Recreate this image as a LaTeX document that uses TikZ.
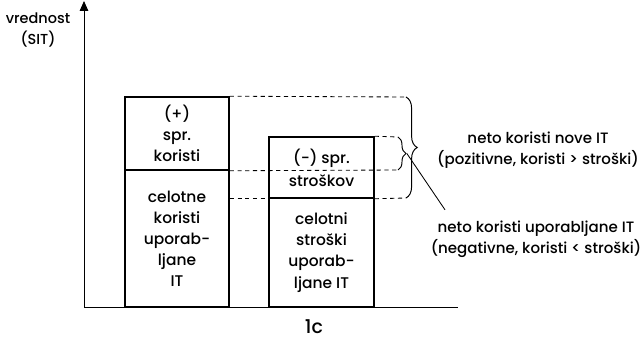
\documentclass[tikz,border=0pt]{standalone}
\usepackage{fontspec}
\setmainfont{Poppins Medium}
\usetikzlibrary{arrows.meta,decorations.pathreplacing}

\tikzset{
  barbox/.style={draw,line width=1.1pt,inner sep=0pt,align=center,font=\fontsize{11}{15}\selectfont},
  dashline/.style={dashed,line width=0.6pt,dash pattern=on 3pt off 2.5pt},
  bracebig/.style={decorate,decoration={brace,amplitude=0.28cm},line width=0.7pt},
  bracesmall/.style={decorate,decoration={brace,amplitude=0.2cm},line width=0.7pt},
  lbl/.style={align=center,font=\fontsize{10.7}{15}\selectfont}
}

\begin{document}
\begin{tikzpicture}
\useasboundingbox (0,0) rectangle (16.1,8.575);
% axes
\coordinate (o) at (2.1,0.9);
\coordinate (ytop) at (2.1,8.55);
\coordinate (xend) at (11.45,0.9);
\draw[line width=0.7pt,-{Triangle[length=7pt,width=6pt]}] (o) -- (ytop);
\draw[line width=0.7pt] (o) -- (xend);
\node[lbl,font=\fontsize{10.3}{15}\selectfont] (yl) at (0.95,7.83) {vrednost\\(SIT)};
\node[lbl,font=\fontsize{13.5}{16}\selectfont] (xl) at (7.85,0.42) {1c};

% bars
\node[barbox,minimum width=2.6cm,minimum height=1.825cm] (sprk) at (4.425,5.2375) {(+)\\spr.\\koristi};
\node[barbox,minimum width=2.6cm,minimum height=3.425cm] (celk) at (4.425,2.6125) {celotne\\koristi\\uporab-\\ljane\\IT};
\node[barbox,minimum width=2.625cm,minimum height=1.525cm,font=\fontsize{11}{16.5}\selectfont] (sprs) at (8.0375,4.3875) {(-) spr.\\stroškov};
\node[barbox,minimum width=2.625cm,minimum height=2.725cm] (cels) at (8.0375,2.2625) {celotni\\stroški\\uporab-\\ljane IT};

% braces
\coordinate (bigT) at (10.15,6.15);
\coordinate (bigB) at (10.15,3.625);
\coordinate (smT) at (9.95,5.15);
\coordinate (smB) at (9.95,4.325);
\draw[dashline] (sprk.north east) -- (bigT);
\draw[dashline] (sprk.south east) -- (smB);
\draw[dashline] (sprs.north east) -- (smT);
\draw[dashline] (celk.east |- sprs.south) -- (sprs.south west);
\draw[dashline] (sprs.south east) -- (bigB);
\draw[bracebig] (bigT) -- (bigB);
\draw[bracesmall] (smT) -- (smB);

% labels
\node[lbl] (nova) at (13.45,4.81) {neto koristi nove IT\\(pozitivne, koristi > stroški)};
\node[lbl] (upor) at (13.4,2.6) {neto koristi uporabljane IT\\(negativne, koristi < stroški)};
\coordinate (tipS) at (10.17,4.74);
\coordinate (leadE) at (11.125,3.33);
\draw[line width=0.6pt] (tipS) -- (leadE);
\end{tikzpicture}
\end{document}
